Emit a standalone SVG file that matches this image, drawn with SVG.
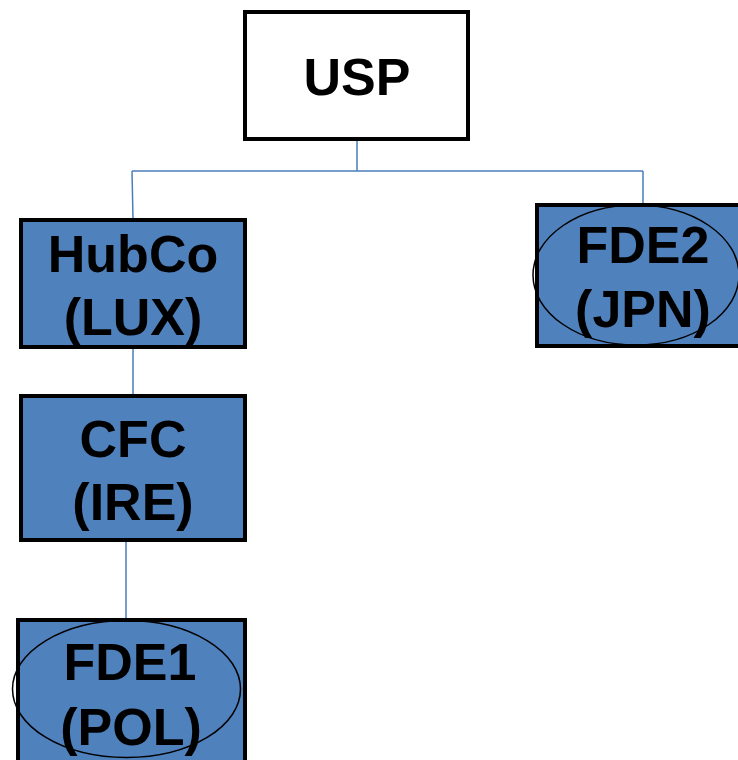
<svg xmlns="http://www.w3.org/2000/svg" width="738" height="760" viewBox="0 0 738 760">
<style>
.box{fill:#4F81BD;stroke:#000;stroke-width:4}
.top{fill:#fff;stroke:#000;stroke-width:4}
.ell{fill:none;stroke:#000;stroke-width:1.5}
.t{font-family:"Liberation Sans",Arial,sans-serif;font-weight:bold;font-size:52px;fill:#000;text-anchor:middle}
.c{stroke:#4A7EBB;stroke-width:1.5;fill:none}
</style>
<rect width="738" height="760" fill="#fff"/>
<g id="connectors">
<path class="c" d="M357,141 V171 M132,171 H643 M132,171 L133,219 M643,171 V204 M133,349 V395 M126,542 V620"/>
</g>
<g id="usp">
<rect class="top" x="245" y="12" width="223" height="127"/>
<text class="t" x="357" y="95">USP</text>
</g>
<g id="hubco">
<rect class="box" x="21" y="220" width="224" height="127"/>
<text class="t" x="133" y="272">HubCo</text>
<text class="t" x="133" y="335">(LUX)</text>
</g>
<g id="cfc">
<rect class="box" x="21" y="396" width="224" height="144"/>
<text class="t" x="133" y="457">CFC</text>
<text class="t" x="133" y="520">(IRE)</text>
</g>
<g id="fde1">
<rect class="box" x="18" y="620" width="227" height="150"/>
<ellipse class="ell" cx="126.5" cy="689" rx="114" ry="68.5"/>
<text class="t" x="130" y="680">FDE1</text>
<text class="t" x="131" y="745">(POL)</text>
</g>
<g id="fde2">
<rect class="box" x="537" y="205" width="215" height="141"/>
<ellipse class="ell" cx="636" cy="275" rx="103" ry="70"/>
<text class="t" x="643" y="263">FDE2</text>
<text class="t" x="643" y="327">(JPN)</text>
</g>
</svg>
